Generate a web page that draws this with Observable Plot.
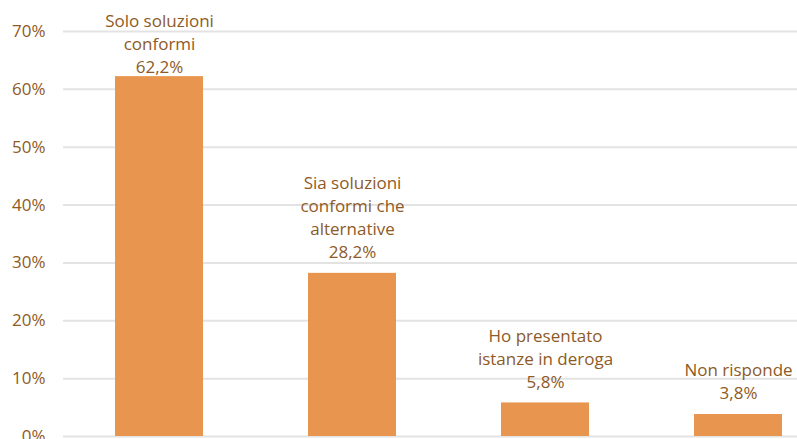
<!DOCTYPE html>
<html><head><meta charset="utf-8">
<script src="https://cdn.jsdelivr.net/npm/d3@7"></script>
<script src="https://cdn.jsdelivr.net/npm/@observablehq/plot@0.6"></script>
<style>
body{margin:0;background:#fff;}
svg{font-family:"Open Sans",sans-serif;}
</style></head>
<body><div id="chart"></div>
<script>
const categories = ["Solo soluzioni conformi", "Sia soluzioni conformi che alternative", "Ho presentato istanze in deroga", "Non risponde"];
const labelLines = ["Solo soluzioni\nconformi", "Sia soluzioni\nconformi che\nalternative", "Ho presentato\nistanze in deroga", "Non risponde"];
const values = [62.2, 28.2, 5.8, 3.8];
const yTicks = [0, 10, 20, 30, 40, 50, 60, 70];

const data = categories.map((c, i) => ({cat: c, value: values[i], label: labelLines[i] + "\n" + values[i].toFixed(1).replace(".", ",") + "%"}));
const textColor = "#8E5A26";

const chart = Plot.plot({
  width: 797,
  height: 439,
  marginTop: 31,
  marginBottom: 3,
  marginLeft: 63,
  marginRight: 0,
  style: {fontFamily: "Open Sans, sans-serif", background: "#fff"},
  x: {domain: categories, range: [62.5, 834.5], paddingInner: 0.544, paddingOuter: 0.272, axis: null},
  y: {domain: [0, 70], ticks: yTicks, axis: null},
  marks: [
    Plot.ruleY(yTicks, {stroke: "#E3E3E3", strokeWidth: 2}),
    Plot.text(yTicks, {y: d => d, text: d => d + "%", frameAnchor: "left", dx: -18, textAnchor: "end", fill: textColor, fontSize: 17}),
    Plot.barY(data, {x: "cat", y: "value", fill: "#E8954F"}),
    Plot.text(data, {x: "cat", y: d => Math.min(d.value + 2.25, 62.4), text: "label", lineAnchor: "bottom", dy: -2, lineHeight: 1.36, fill: textColor, fontSize: 17})
  ]
});
document.getElementById("chart").appendChild(chart);
</script></body></html>
